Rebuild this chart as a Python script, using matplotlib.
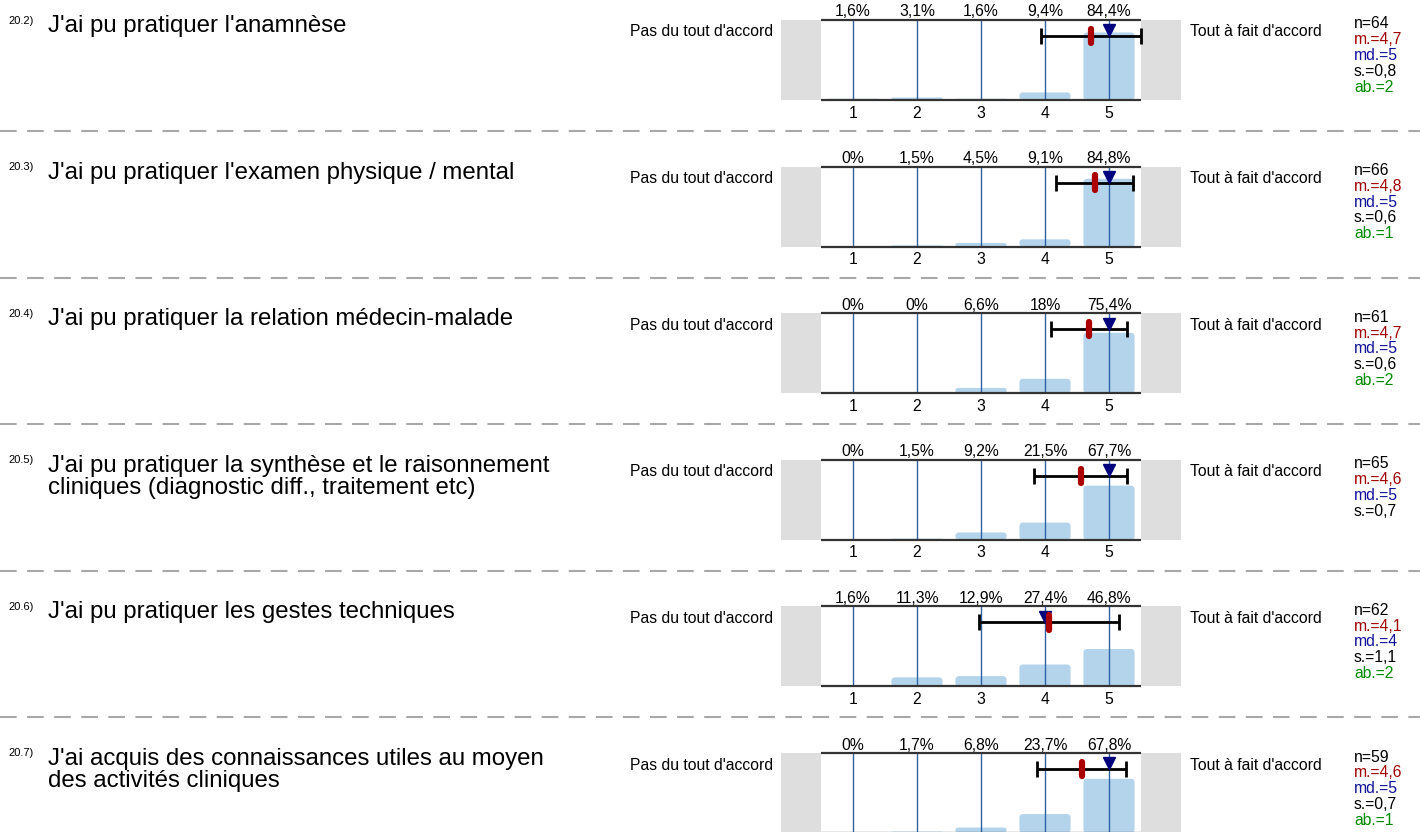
import numpy as np
import matplotlib.pyplot as plt
from matplotlib.patches import FancyBboxPatch

plt.rcParams['font.family'] = ['Liberation Sans', 'DejaVu Sans']

# data
codes = ['20.2)', '20.3)', '20.4)', '20.5)', '20.6)', '20.7)']
questions = [
    "J'ai pu pratiquer l'anamnèse",
    "J'ai pu pratiquer l'examen physique / mental",
    "J'ai pu pratiquer la relation médecin-malade",
    "J'ai pu pratiquer la synthèse et le raisonnement\ncliniques (diagnostic diff., traitement etc)",
    "J'ai pu pratiquer les gestes techniques",
    "J'ai acquis des connaissances utiles au moyen\ndes activités cliniques",
]
scale = [1, 2, 3, 4, 5]
pct = [
    [1.6, 3.1, 1.6, 9.4, 84.4],
    [0, 1.5, 4.5, 9.1, 84.8],
    [0, 0, 6.6, 18, 75.4],
    [0, 1.5, 9.2, 21.5, 67.7],
    [1.6, 11.3, 12.9, 27.4, 46.8],
    [0, 1.7, 6.8, 23.7, 67.8],
]
pct_labels = [
    ['1,6%', '3,1%', '1,6%', '9,4%', '84,4%'],
    ['0%', '1,5%', '4,5%', '9,1%', '84,8%'],
    ['0%', '0%', '6,6%', '18%', '75,4%'],
    ['0%', '1,5%', '9,2%', '21,5%', '67,7%'],
    ['1,6%', '11,3%', '12,9%', '27,4%', '46,8%'],
    ['0%', '1,7%', '6,8%', '23,7%', '67,8%'],
]
n_vals = [64, 66, 61, 65, 62, 59]
m_vals = ['4,7', '4,8', '4,7', '4,6', '4,1', '4,6']
md_vals = [5, 5, 5, 5, 4, 5]
s_vals = ['0,8', '0,6', '0,6', '0,7', '1,1', '0,7']
ab_vals = [2, 1, 2, None, 2, 1]

left_label = "Pas du tout d'accord"
right_label = "Tout à fait d'accord"

W, H = 1420, 832
fig = plt.figure(figsize=(W / 100, H / 100), dpi=100)

# background axes in pixel coordinates for texts and separators
bg = fig.add_axes([0, 0, 1, 1])
bg.set_xlim(0, W)
bg.set_ylim(H, 0)
bg.axis('off')

step = 146.6
bar_col = '#b4d4ec'
line_col = '#2e63a6'

for i in range(len(questions)):
    top = 20 + i * step
    last = i == len(questions) - 1

    # question text
    bg.text(8, top + 0.5, codes[i], fontsize=8, va='center', ha='left')
    bg.text(48, top - 5, questions[i], fontsize=17.3, va='top', ha='left',
            linespacing=1.02)
    bg.text(773, top + 12, left_label, fontsize=11.3, va='center', ha='right')
    bg.text(1190, top + 12, right_label, fontsize=11.3, va='center', ha='left')

    # stats
    stats = [('n=%d' % n_vals[i], 'black'),
             ('m.=' + m_vals[i], '#a00000'),
             ('md.=%d' % md_vals[i], '#10109a'),
             ('s.=' + s_vals[i], 'black')]
    if ab_vals[i] is not None:
        stats.append(('ab.=%d' % ab_vals[i], '#008a00'))
    for k, (txt, c) in enumerate(stats):
        bg.text(1354, top + 4 + k * 15.8, txt, fontsize=11.3, color=c,
                va='center', ha='left')

    # separator
    if not last:
        bg.plot([0, W], [top + 111, top + 111], color='#a8a8a8', lw=1.5,
                linestyle=(0, (8, 5)))

    # the bar panel
    ax = fig.add_axes([781 / W, 1 - (top + 80) / H, 400 / W, 80 / H])
    ax.set_xlim(-0.125, 6.125)
    ax.set_ylim(0, 100)
    for sp in ax.spines.values():
        sp.set_visible(False)
    ax.axvspan(-0.125, 0.5, color='#dedede', lw=0)
    ax.axvspan(5.5, 6.125, color='#dedede', lw=0)

    for x, h in zip(scale, pct[i]):
        if h <= 0:
            continue
        r = min(0.06, h / 80 / 2)
        ax.add_patch(FancyBboxPatch((x - 0.4, 0), 0.8, h,
                                    boxstyle='round,pad=0,rounding_size=%f' % r,
                                    mutation_aspect=80, fc=bar_col, ec='none'))
    for x in scale:
        ax.plot([x, x], [0, 100], color=line_col, lw=1)
    ax.hlines([0, 100], 0.5, 5.5, color='#333333', lw=1.6, clip_on=False)

    for x, lab in zip(scale, pct_labels[i]):
        ax.text(x, 110, lab, fontsize=11.3, ha='center', va='center',
                clip_on=False)

    ax.set_xticks(scale)
    if last:
        # the last panel is cut by the bottom edge
        ax.set_xticklabels([])
    else:
        ax.set_xticklabels([str(s) for s in scale], fontsize=11.3)
    ax.tick_params(axis='x', length=0, pad=4)
    ax.set_yticks([])

    # mean, sd and median computed from the distribution
    p = np.array(pct[i]) / np.sum(pct[i])
    xs = np.array(scale)
    mean = np.sum(p * xs)
    sd = np.sqrt(np.sum(p * xs ** 2) - mean ** 2)
    cum = np.cumsum(p)
    med = xs[np.searchsorted(cum, 0.5)]

    ax.errorbar(mean, 80, xerr=sd, color='black', lw=2, capsize=6,
                capthick=2, clip_on=False)
    ax.plot(med, 87, marker='v', color='#00007f', markersize=8, clip_on=False)
    ax.plot([mean, mean], [71, 89], color='#aa0000', lw=4.5,
            solid_capstyle='round', clip_on=False)

fig.savefig('out.png', dpi=100)
